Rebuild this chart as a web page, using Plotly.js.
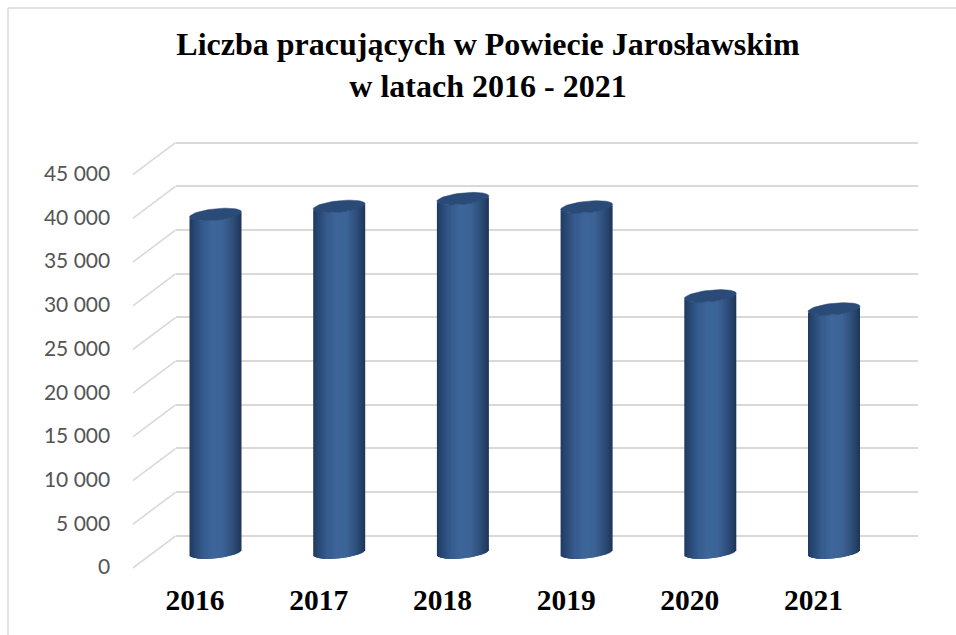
<!DOCTYPE html>
<html><head><meta charset="utf-8">
<script src="https://cdn.plot.ly/plotly-3.0.1.min.js"></script>
<style>html,body{margin:0;padding:0;background:#fff}#c{width:956px;height:635px}</style>
</head><body><div id="c"></div>
<script>
const years = [2016, 2017, 2018, 2019, 2020, 2021];
const workers = [38670, 39590, 40480, 39530, 29350, 27860];
const yTicks = [0, 5000, 10000, 15000, 20000, 25000, 30000, 35000, 40000, 45000];
const titleText = 'Liczba pracujących w Powiecie Jarosławskim<br>w latach 2016 - 2021';

const W = 956, H = 635;
const yearPx = 123.7, xSpan = yearPx * 6;
const unitPx = 43.7 / 5000;
const xDom = l => [l / W, (l + xSpan) / W];
const yDom = (zeroPx, lo, hi) => [1 - (zeroPx - lo * unitPx) / H, 1 - (zeroPx - hi * unitPx) / H];
const xRange = [2015.5, 2021.5];
const wallDx = 43 / yearPx, wallDy = 32.2 / unitPx;

// cylinder geometry (pixels)
const halfW = 26, minor = 5.8, tilt = 2.6;
const stops = [[-1,[32,58,96]],[-0.8,[40,72,116]],[-0.45,[54,92,142]],[-0.1,[62,102,154]],[0.3,[60,99,150]],[0.65,[47,80,124]],[0.9,[35,61,98]],[1,[29,52,86]]];
function col(t){
  for (let i=1;i<stops.length;i++) if (t<=stops[i][0]) {
    const a=stops[i-1], b=stops[i], f=(t-a[0])/(b[0]-a[0]);
    return 'rgb('+a[1].map((v,k)=>Math.round(v+(b[1][k]-v)*f)).join(',')+')';
  }
  return 'rgb(29,52,86)';
}
const traces = [];
const ghost = (xa,ya)=>({type:'scatter',mode:'markers',xaxis:xa,yaxis:ya,x:years,y:workers,marker:{opacity:0,size:1},hoverinfo:'skip',showlegend:false});
// front plane carries the tick labels, back plane the gridlines
traces.push(ghost('x','y'));
traces.push(ghost('x2','y2'));
// left wall lines, from the back plane towards the front plane
const wallX=[], wallY=[];
yTicks.forEach(v=>{
  wallX.push(xRange[0], xRange[0]-wallDx, null);
  wallY.push(v, v-wallDy, null);
});
traces.push({type:'scatter',mode:'lines',xaxis:'x4',yaxis:'y4',x:wallX,y:wallY,line:{color:'#d9d9d9',width:1.6},hoverinfo:'skip',showlegend:false});

// the cylinder side: strips painted from both edges towards the lowest point of the base
const N = 52, stripYears = 2 * halfW / N / yearPx, t0 = -0.4, overlap = 3;
const order = Array.from({length:N},(_,i)=>i).sort((a,b)=>{
  const ta=-1+(2*a+1)/N, tb=-1+(2*b+1)/N;
  return Math.abs(tb-t0)-Math.abs(ta-t0);
});
order.forEach(i=>{
  const t = -1 + (2*i+1)/N;
  const lowPx = minor*Math.sqrt(Math.max(0,1-t*t)) - tilt*t;
  const start = t < t0 ? i : i + 1 - overlap;
  traces.push({
    type:'bar', xaxis:'x3', yaxis:'y3', opacity:1,
    x: years, y: workers,
    base: -lowPx/unitPx,
    width: stripYears*overlap,
    offset: -halfW/yearPx + start*stripYears,
    marker:{color:col(t), opacity:1, line:{width:0}},
    hoverinfo:'skip', showlegend:false
  });
});
// top cap of each cylinder, through the value scale
const capX=[], capY=[];
years.forEach((yr,k)=>{
  for (let d=0;d<=360;d+=6){
    const r=d*Math.PI/180;
    capX.push(yr + halfW*Math.cos(r)/yearPx);
    capY.push(workers[k] + (tilt*Math.cos(r) + minor*Math.sin(r))/unitPx);
  }
  capX.push(null); capY.push(null);
});
traces.push({type:'scatter',mode:'lines',xaxis:'x3',yaxis:'y3',x:capX,y:capY,fill:'toself',fillcolor:'#2a4a78',line:{width:0.5,color:'#2a4a78'},hoverinfo:'skip',showlegend:false});

const grid='#d9d9d9';
const shapes = [];
shapes.push({type:'line',xref:'paper',yref:'paper',x0:8/W,x1:1,y0:1-8/H,y1:1-8/H,line:{color:grid,width:1.5}});
shapes.push({type:'line',xref:'paper',yref:'paper',x0:8/W,x1:8/W,y0:0,y1:1-8/H,line:{color:grid,width:1.5}});

const hidden = {showgrid:false,zeroline:false,showline:false,showticklabels:false,ticks:''};
const layout = {
  width:W, height:H, autosize:false,
  margin:{l:0,r:0,t:0,b:0,pad:0},
  paper_bgcolor:'#fff', plot_bgcolor:'rgba(0,0,0,0)',
  separators:'. ', barmode:'overlay', hovermode:false, showlegend:false,
  title:{text:titleText, font:{family:'Liberation Serif',size:32,color:'#000',weight:700}, x:488/W, xanchor:'center', y:1-55/H, yanchor:'top', xref:'paper', yref:'paper'},
  xaxis:{domain:xDom(133.2),range:xRange,anchor:'y',tickmode:'array',tickvals:years,ticktext:years.map(String),showgrid:false,zeroline:false,showline:false,ticks:'',ticklabelstandoff:12,automargin:false,tickfont:{family:'Liberation Serif',size:29.5,color:'#000',weight:700}},
  yaxis:{domain:yDom(567,0,45000),range:[0,45000],anchor:'x',tickmode:'array',tickvals:yTicks,tickformat:',d',showgrid:false,zeroline:false,showline:false,ticks:'',ticklabelstandoff:22,automargin:false,tickfont:{family:'Lato',size:21,color:'#555555'}},
  xaxis2:Object.assign({domain:xDom(175.8),range:xRange,anchor:'y2'},hidden),
  yaxis2:{domain:yDom(535.8,-2000,46000),range:[-2000,46000],anchor:'x2',tickmode:'array',tickvals:yTicks,showgrid:true,gridcolor:grid,gridwidth:2,zeroline:false,showline:false,showticklabels:false,ticks:''},
  xaxis3:Object.assign({domain:xDom(153.65),range:xRange,anchor:'y3'},hidden),
  yaxis3:Object.assign({domain:yDom(552.5,-2000,46000),range:[-2000,46000],anchor:'x3'},hidden),
  xaxis4:Object.assign({domain:[(175.8-43)/W,175.8/W],range:[xRange[0]-wallDx,xRange[0]],anchor:'y4'},hidden),
  yaxis4:Object.assign({domain:yDom(535.8,-4500,46000),range:[-4500,46000],anchor:'x4'},hidden),
  shapes:shapes
};
Plotly.newPlot('c',traces,layout,{displayModeBar:false,staticPlot:true});
</script></body></html>
